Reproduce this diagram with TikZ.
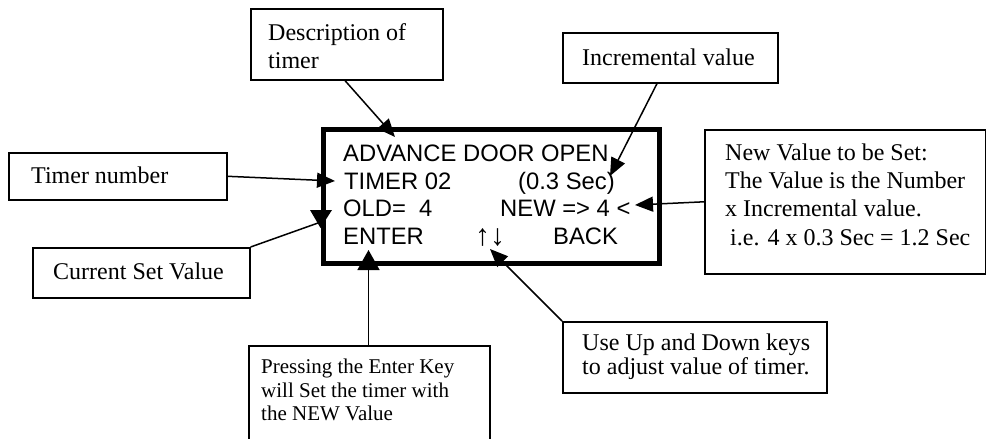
\documentclass[tikz,border=0pt]{standalone}
\usepackage{fontspec}
\setmainfont{Liberation Serif}
\newfontfamily\lcdfont{Liberation Sans}
\usetikzlibrary{arrows.meta}
\begin{document}
\begin{tikzpicture}[x=1pt,y=-1pt,
  box/.style={draw,line width=1.6pt,inner sep=0pt,anchor=north west},
  lbl/.style={anchor=base west,inner sep=0pt,font=\fontsize{24}{28.5}\selectfont},
  smalllbl/.style={anchor=base west,inner sep=0pt,font=\fontsize{21}{24}\selectfont},
  lcdtxt/.style={anchor=base west,inner sep=0pt,font=\lcdfont\fontsize{23.8}{27.4}\selectfont},
  arr/.style={line width=1.5pt,-{Triangle[length=18pt,width=15pt]}},
  bigarr/.style={line width=1.5pt,-{Triangle[length=20pt,width=22pt]}}
]
\clip (0,0) rectangle (986,439);
\fill[white] (0,0) rectangle (986,439);

% boxes
\node[box,minimum width=192pt,minimum height=71pt] (desc) at (250,8) {};
\node[box,minimum width=215pt,minimum height=50pt] (incr) at (562,32) {};
\node[box,minimum width=218pt,minimum height=47pt] (timer) at (8,152) {};
\node[box,minimum width=217pt,minimum height=50pt] (cs) at (32,247) {};
\node[box,minimum width=281pt,minimum height=144pt] (newv) at (704,129) {};
\node[box,minimum width=241pt,minimum height=110pt] (press) at (248,345) {};
\node[box,minimum width=264pt,minimum height=71pt] (useup) at (562,321) {};
\node[box,line width=4.8pt,minimum width=336pt,minimum height=134pt] (lcd) at (321,127) {};

% box texts
\node[lbl] (descA) at (268,40) {Description of};
\node[lbl] (descB) at (268,68) {timer};
\node[lbl] (incrT) at (582,65) {Incremental value};
\node[lbl] (timerT) at (31,183) {Timer number};
\node[lbl] (csT) at (53,279) {Current Set Value};
\node[lbl] (newA) at (725,160) {New Value to be Set:};
\node[lbl] (newB) at (725,188) {The Value is the Number};
\node[lbl] (newC) at (725,216.5) {x Incremental value.};
\node[lbl] (newD) at (730,245) {i.e. 4 x 0.3 Sec = 1.2 Sec};
\node[smalllbl] (pressA) at (261,373) {Pressing the Enter Key};
\node[smalllbl] (pressB) at (261,397) {will Set the timer with};
\node[smalllbl] (pressC) at (261,420) {the NEW Value};
\node[lbl] (upA) at (582,350) {Use Up and Down keys};
\node[lbl] (upB) at (582,374) {to adjust value of timer.};

% LCD texts
\node[lcdtxt] (l1) at (343,161.7) {ADVANCE DOOR OPEN};
\node[lcdtxt] (l2a) at (344,189) {TIMER 02};
\node[lcdtxt] (l2b) at (518,189) {(0.3 Sec)};
\node[lcdtxt] (l3a) at (343,216.7) {OLD=~~4};
\node[lcdtxt] (l3b) at (500,216.7) {NEW => 4 <};
\node[lcdtxt] (l4a) at (343,244) {ENTER};
\node[lcdtxt,font=\lcdfont\fontsize{30}{30}\selectfont] (l4b) at (475,245) {↑↓};
\node[lcdtxt] (l4c) at (553,244) {BACK};

% arrow tips
\coordinate (tDesc) at (395,137);
\coordinate (tIncr) at (610,176);
\coordinate (tTimer) at (335,181);
\coordinate (tCS) at (318,223);
\coordinate (tNew) at (635,205);
\coordinate (tEnter) at (368.5,250);
\coordinate (tUp) at (490,249);

% connectors
\draw[arr] ([xshift=95pt]desc.south west) -- (tDesc);
\draw[arr] ([xshift=95pt]incr.south west) -- (tIncr);
\draw[arr] (timer.east) -- (tTimer);
\draw[line width=1.5pt] (cs.north east) -- (tCS);
\fill ([shift={(-8,-13)}]tCS) -- ([shift={(14,-13)}]tCS) -- ([shift={(2.5,5)}]tCS) -- cycle;
\draw[arr] (newv.west) -- (tNew);
\draw[bigarr] ([xshift=120.5pt]press.north west) -- (tEnter);
\draw[arr] (useup.north west) -- (tUp);
\end{tikzpicture}
\end{document}
